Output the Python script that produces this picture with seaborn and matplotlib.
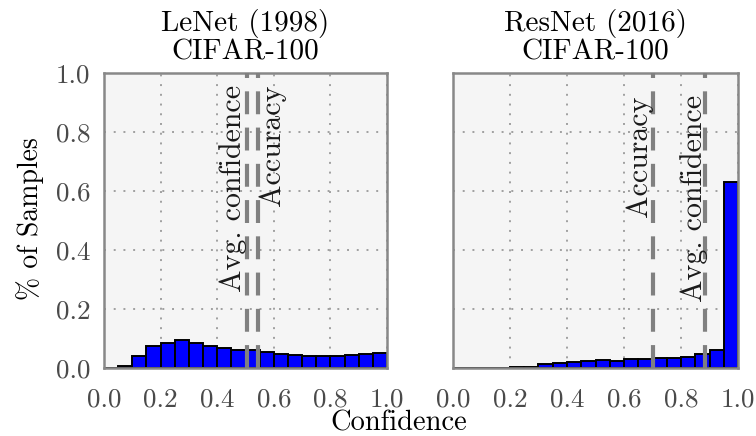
import numpy as np
import pandas as pd
import matplotlib
matplotlib.use("Agg")
import matplotlib.pyplot as plt
import seaborn as sns

# Confidence histograms (fraction of samples per 0.05-wide bin)
bin_edges = [round(0.05 * k, 2) for k in range(21)]
bin_centers = [round(0.05 * k + 0.025, 3) for k in range(20)]

lenet_frac = [0.001, 0.008, 0.040, 0.074, 0.086, 0.094, 0.084, 0.073,
              0.067, 0.062, 0.060, 0.053, 0.048, 0.043, 0.042, 0.042,
              0.042, 0.045, 0.049, 0.051]
resnet_frac = [0.0, 0.0, 0.0, 0.0, 0.003, 0.005, 0.012, 0.016,
               0.020, 0.025, 0.027, 0.025, 0.029, 0.030, 0.033, 0.034,
               0.038, 0.047, 0.060, 0.630]

lenet_acc, lenet_conf = 0.545, 0.505
resnet_acc, resnet_conf = 0.70, 0.885

titles = ["LeNet (1998)\nCIFAR-100", "ResNet (2016)\nCIFAR-100"]
tick_vals = [0.0, 0.2, 0.4, 0.6, 0.8, 1.0]
tick_labels = ["0.0", "0.2", "0.4", "0.6", "0.8", "1.0"]

sns.set_style("whitegrid")
plt.rcParams["font.family"] = ["cmr10", "DejaVu Serif"]
plt.rcParams["mathtext.fontset"] = "cm"
plt.rcParams["axes.formatter.use_mathtext"] = True

fig = plt.figure(figsize=(7.56, 4.36), dpi=100)
fig.patch.set_facecolor("white")
ax_l = fig.add_axes([0.1376, 0.156, 0.3743, 0.6766])
ax_r = fig.add_axes([0.5992, 0.156, 0.3770, 0.6766])

panels = [
    (ax_l, lenet_frac, lenet_acc, lenet_conf),
    (ax_r, resnet_frac, resnet_acc, resnet_conf),
]

for i, (ax, frac, acc, conf) in enumerate(panels):
    ax.set_facecolor("#f5f5f5")
    df = pd.DataFrame({"confidence": bin_centers, "fraction": frac})
    sns.histplot(data=df, x="confidence", weights="fraction",
                 bins=list(bin_edges), ax=ax, color="#0000ff",
                 edgecolor="black", linewidth=1.4, alpha=1.0, zorder=2)
    for v in (acc, conf):
        ax.axvline(v, color="#808080", lw=3.0, linestyle=(0, (5.5, 3.2)),
                   zorder=3)
    ax.set_xlim(0, 1)
    ax.set_ylim(0, 1)
    ax.set_xticks(tick_vals)
    ax.set_xticklabels(tick_labels)
    ax.set_yticks(tick_vals)
    ax.set_yticklabels(tick_labels if i == 0 else [])
    ax.grid(True, color="#a0a0a0", linestyle=(0, (1, 4)), linewidth=1.4)
    ax.set_axisbelow(True)
    ax.tick_params(length=0, labelsize=19.5, labelcolor="#4a4a4a")
    ax.tick_params(axis="x", pad=14)
    ax.tick_params(axis="y", pad=10)
    ax.set_xlabel("")
    ax.set_ylabel("")
    for sp in ax.spines.values():
        sp.set_visible(True)
        sp.set_color("#888888")
        sp.set_linewidth(1.8)
    ax.set_title(titles[i], fontsize=21, color="black", pad=10,
                 linespacing=1.05)

# line annotations
ax_l.text(lenet_conf - 0.05, 0.96, "Avg. confidence", rotation=90,
          ha="center", va="top", fontsize=21.5, color="#1a1a1a", zorder=4)
ax_l.text(lenet_acc + 0.05, 0.96, "Accuracy", rotation=90,
          ha="center", va="top", fontsize=21.5, color="#1a1a1a", zorder=4)
ax_r.text(resnet_acc - 0.045, 0.925, "Accuracy", rotation=90,
          ha="center", va="top", fontsize=21.5, color="#1a1a1a", zorder=4)
ax_r.text(resnet_conf - 0.04, 0.925, "Avg. confidence", rotation=90,
          ha="center", va="top", fontsize=21.5, color="#1a1a1a", zorder=4)

fig.text(0.528, 0.0, "Confidence", ha="center", va="bottom",
         fontsize=20.5, color="black")
fig.text(0.04, 0.498, "% of Samples", rotation=90, ha="center",
         va="center", fontsize=20, color="black")

fig.savefig("out.png", dpi=100)
